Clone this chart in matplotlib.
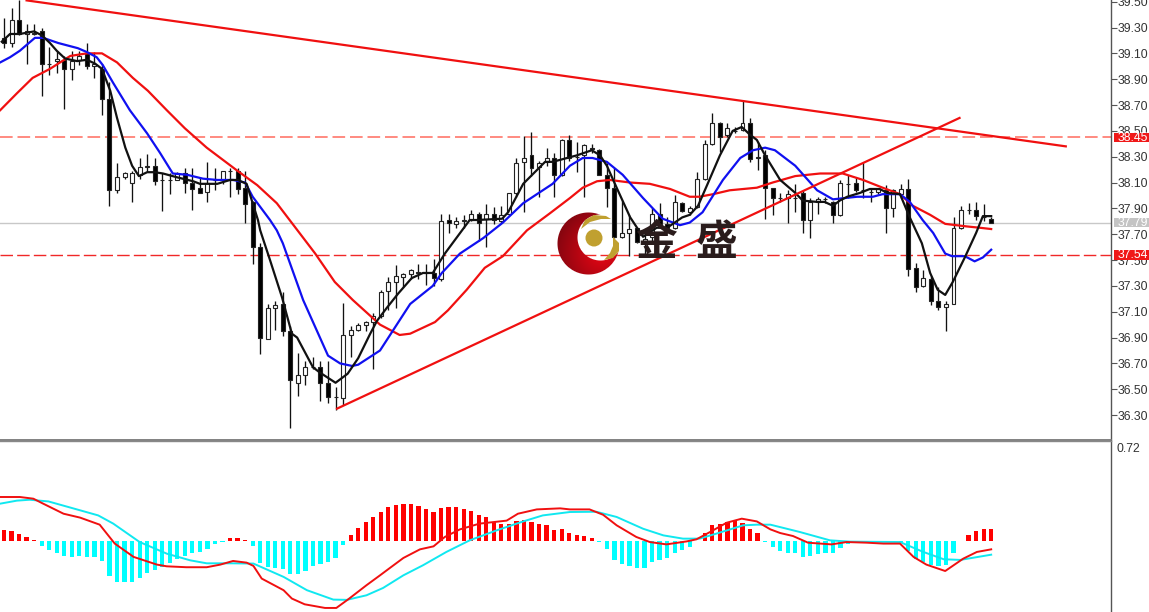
import numpy as np
import matplotlib
matplotlib.use('Agg')
import matplotlib.pyplot as plt
from matplotlib.patches import Rectangle, Polygon, Circle

plt.rcParams['font.family'] = ['Liberation Sans', 'DejaVu Sans']

# candles
highs = [39.37,39.45,39.51,39.33,39.33,39.30,39.15,39.12,39.08,39.12,39.12,39.18,39.11,39.02,38.88,38.25,38.18,38.19,38.29,38.32,
         38.29,38.17,38.17,38.18,38.21,38.21,38.14,38.26,38.21,38.19,38.21,38.21,38.19,37.96,37.63,37.16,37.18,37.25,36.99,36.78,
         36.72,36.75,36.72,36.72,36.52,37.17,36.99,37.01,37.03,37.09,37.27,37.37,37.46,37.40,37.43,37.47,37.47,37.51,37.86,37.86,
         37.83,37.85,37.89,37.87,37.93,37.91,37.92,38.02,38.29,38.46,38.49,38.27,38.37,38.33,38.44,38.47,38.41,38.40,38.40,38.36,
         38.25,38.21,37.96,37.85,37.75,37.73,37.90,37.94,37.83,38.00,37.95,37.92,38.18,38.43,38.64,38.57,38.56,38.53,38.74,38.60,
         38.41,38.35,38.06,38.02,38.04,38.09,38.04,37.98,37.99,37.99,37.96,38.12,38.16,38.14,38.26,38.05,38.06,38.08,38.05,38.09,
         38.13,37.48,37.42,37.38,37.29,37.18,37.83,37.92,37.94,37.95,37.93,37.83]
lows = [39.14,39.15,39.24,39.02,39.24,38.77,38.93,38.95,38.67,38.89,39.01,38.98,38.91,38.62,37.92,38.02,38.13,37.95,38.13,38.18,
        38.08,37.88,38.01,38.12,38.02,37.89,38.02,37.95,38.04,38.09,37.99,38.01,37.79,37.47,36.77,36.89,36.96,36.91,36.20,36.45,
        36.53,36.66,36.41,36.39,36.34,36.38,36.75,36.95,36.95,36.66,37.05,37.11,37.13,37.29,37.35,37.35,37.31,37.30,37.34,37.71,
        37.75,37.75,37.80,37.65,37.60,37.78,37.79,37.85,37.99,37.87,38.15,37.99,38.23,37.99,38.15,38.27,38.18,37.99,38.33,38.16,
        37.91,37.67,37.67,37.53,37.63,37.55,37.65,37.75,37.73,37.74,37.87,37.85,37.90,38.12,38.39,38.34,38.45,38.48,38.50,38.26,
        38.20,37.82,37.85,37.95,37.79,37.87,37.71,37.67,37.86,37.94,37.79,37.84,37.98,38.03,37.98,37.95,38.01,37.71,37.83,37.98,
        37.38,37.25,37.29,37.15,37.11,36.95,37.16,37.74,37.86,37.81,37.80,37.79]
opens = [39.22,39.18,39.36,39.25,39.25,39.27,39.02,39.04,39.05,38.98,39.05,39.10,39.00,38.98,38.75,38.04,38.14,38.10,38.16,38.22,
         38.23,38.12,38.12,38.12,38.17,38.10,38.06,38.03,38.12,38.12,38.19,38.19,38.06,37.95,37.60,36.89,37.13,37.16,36.95,36.55,
         36.61,36.67,36.67,36.55,36.44,36.43,36.92,36.96,37.00,37.02,37.07,37.26,37.33,37.37,37.39,37.41,37.40,37.40,37.35,37.81,
         37.78,37.80,37.81,37.86,37.82,37.86,37.80,37.86,38.02,38.26,38.31,38.22,38.26,38.29,38.16,38.43,38.30,38.31,38.37,38.35,
         38.16,38.06,37.68,37.71,37.75,37.63,37.68,37.86,37.78,37.75,37.94,37.87,37.91,38.13,38.40,38.56,38.47,38.50,38.51,38.56,
         38.29,38.31,38.06,37.98,37.98,37.98,38.02,37.81,37.95,37.97,37.95,37.85,38.09,38.10,38.04,38.03,38.03,38.04,37.90,38.01,
         38.05,37.44,37.30,37.35,37.18,37.14,37.16,37.75,37.89,37.89,37.83,37.82]
closes = [39.18,39.36,39.25,39.27,39.26,39.02,39.02,39.06,38.98,39.04,39.08,39.00,39.02,38.75,38.04,38.14,38.17,38.17,38.22,38.23,
          38.11,38.12,38.12,38.17,38.10,38.05,38.02,38.10,38.12,38.19,38.19,38.05,37.93,37.60,36.90,37.13,37.15,36.95,36.57,36.61,
          36.67,36.67,36.55,36.44,36.44,36.92,36.96,37.00,37.02,37.07,37.25,37.33,37.38,37.39,37.42,37.40,37.40,37.36,37.80,37.79,
          37.80,37.81,37.86,37.79,37.86,37.81,37.85,38.02,38.25,38.29,38.21,38.25,38.29,38.16,38.43,38.29,38.30,38.39,38.36,38.16,
          38.06,37.68,37.71,37.74,37.64,37.66,37.86,37.78,37.75,37.95,37.88,37.90,38.13,38.40,38.56,38.45,38.52,38.50,38.56,38.28,
          38.30,38.06,37.98,37.98,38.01,37.98,37.81,37.95,37.97,37.97,37.85,38.10,38.09,38.04,38.04,38.03,38.05,37.90,38.04,38.05,
          37.43,37.29,37.36,37.18,37.14,37.16,37.75,37.89,37.89,37.84,37.83,37.79]

# moving averages: bar position, price
black_x = [-0.3,0.8,2.1,4.0,5.0,6.1,7.0,8.1,9.7,11.0,12.1,13.0,14.1,15.0,16.1,17.0,17.9,19.0,20.0,21.1,23.0,25.1,26.0,28.3,30.0,31.0,32.2,33.0,33.7,34.0,35.3,36.9,38.2,38.9,41.0,41.9,44.0,45.6,47.0,48.6,49.5,50.8,52.3,54.1,55.6,56.9,58.5,61.8,62.8,66.1,66.9,68.9,71.8,72.8,76.0,78.0,79.1,80.0,81.3,83.1,84.8,86.6,88.0,90.0,91.0,92.1,93.3,95.0,96.7,97.9,99.0,99.9,101.0,103.0,105.0,106.0,107.9,108.9,110.0,110.9,111.9,113.6,114.9,116.2,117.2,118.9,120.2,121.8,122.9,123.9,124.9,125.9,127.5,129.0,129.9,131.0]
black_y = [39.19,39.25,39.25,39.27,39.24,39.18,39.12,39.06,39.04,39.05,39.02,38.98,38.81,38.60,38.37,38.23,38.15,38.18,38.18,38.17,38.14,38.11,38.09,38.09,38.12,38.12,38.09,37.94,37.81,37.73,37.50,37.21,36.93,36.90,36.67,36.63,36.55,36.62,36.74,36.93,37.03,37.13,37.24,37.36,37.40,37.40,37.55,37.81,37.81,37.82,37.87,38.09,38.26,38.26,38.31,38.35,38.31,38.23,38.06,37.83,37.68,37.75,37.75,37.83,37.85,37.92,38.08,38.31,38.50,38.53,38.47,38.43,38.31,38.12,38.02,37.96,37.95,37.95,37.92,37.96,37.99,38.02,38.05,38.05,38.02,38.01,37.83,37.63,37.40,37.27,37.23,37.33,37.52,37.71,37.84,37.84]
blue_x = [-0.5,0.8,2.1,4.1,5.2,7.2,9.8,11.0,12.3,13.1,14.5,16.7,19.0,20.7,22.4,24.3,26.4,28.3,30.4,32.0,33.0,35.3,36.2,37.0,39.7,43.0,44.6,46.2,47.0,49.9,53.9,56.9,58.1,60.5,63.6,66.2,68.9,72.8,75.1,76.8,78.1,80.0,82.1,84.8,87.4,89.7,91.0,92.7,95.4,97.7,99.4,101.0,102.3,105.0,107.9,110.0,113.2,115.3,116.6,118.9,120.2,121.9,123.3,124.9,125.8,127.5,128.8,129.9,131.0]
blue_y = [39.03,39.07,39.12,39.22,39.22,39.18,39.14,39.11,39.07,39.01,38.87,38.66,38.48,38.33,38.17,38.16,38.13,38.12,38.12,38.10,37.99,37.81,37.73,37.63,37.19,36.76,36.70,36.68,36.69,36.80,37.16,37.30,37.40,37.55,37.67,37.79,37.94,38.09,38.23,38.29,38.29,38.26,38.16,37.98,37.82,37.77,37.79,37.87,38.12,38.29,38.35,38.37,38.35,38.23,38.04,37.97,37.99,37.99,38.01,38.01,37.95,37.81,37.71,37.55,37.53,37.53,37.49,37.52,37.58]
red_x = [-0.5,1.7,3.8,6.1,8.8,11.0,13.0,15.0,17.1,19.1,21.6,24.0,26.9,31.0,33.6,36.2,37.9,41.3,43.9,46.3,49.9,52.5,53.9,57.2,58.9,61.4,63.8,66.2,69.4,72.4,75.1,76.8,78.7,80.4,83.1,85.7,88.4,91.0,92.3,94.1,96.3,99.9,102.0,105.0,108.3,111.3,114.0,116.6,118.9,120.6,122.9,124.9,127.8,129.5,131.0]
red_y = [38.66,38.79,38.91,38.98,39.08,39.10,39.10,39.03,38.91,38.81,38.66,38.52,38.37,38.19,38.08,37.94,37.81,37.55,37.33,37.19,37.00,36.92,36.93,37.02,37.11,37.27,37.44,37.53,37.73,37.86,37.98,38.06,38.11,38.12,38.10,38.09,38.05,37.99,37.99,38.01,38.04,38.06,38.10,38.15,38.17,38.17,38.12,38.06,38.01,37.92,37.85,37.78,37.76,37.75,37.74]

# trend lines: bar position, price
trend_down_x = [3.0, 140.9]
trend_down_y = [39.51, 38.38]
trend_up_x = [44.2, 126.8]
trend_up_y = [36.35, 38.60]

# horizontal levels
level_upper = 38.45
level_lower = 37.54
level_bid = 37.79
price_ticks = [36.30,36.50,36.70,36.90,37.10,37.30,37.50,37.70,37.90,38.10,38.30,38.50,38.70,38.90,39.10,39.30,39.50]

# macd histogram and its two lines
hist = [.087,.079,.056,.033,.010,-.041,-.071,-.092,-.117,-.122,-.117,-.122,-.122,-.156,-.270,-.314,-.316,-.314,-.283,-.245,
        -.224,-.199,-.168,-.135,-.115,-.092,-.084,-.059,-.023,-.005,.020,.020,.008,-.041,-.168,-.201,-.204,-.212,-.255,-.255,
        -.232,-.194,-.173,-.161,-.128,-.033,.043,.102,.148,.181,.224,.258,.278,.281,.281,.265,.247,.219,.255,.263,
        .258,.242,.230,.196,.181,.145,.130,.128,.150,.163,.148,.128,.122,.084,.092,.064,.046,.036,.023,-.008,
        -.059,-.143,-.179,-.194,-.209,-.209,-.163,-.143,-.133,-.089,-.066,-.048,-.003,.064,.120,.133,.148,.153,.140,.089,
        .059,-.005,-.046,-.077,-.092,-.092,-.122,-.115,-.097,-.089,-.092,-.054,-.020,-.008,-.005,-.003,-.003,-.005,-.005,-.005,
        -.077,-.140,-.161,-.186,-.194,-.186,-.092,-.003,.048,.077,.094,.094]
macd_x = [-0.5,2.1,3.9,5.2,7.9,10.1,12.7,14.7,17.2,20.3,21.6,24.2,26.9,28.7,30.4,32.2,33.1,34.2,37.1,38.2,39.9,42.6,44.1,45.7,48.1,49.9,51.2,53.0,55.2,57.0,58.5,60.5,63.1,66.7,68.2,70.7,73.8,75.1,77.7,79.5,81.3,83.9,85.7,87.9,90.6,91.9,93.7,95.9,97.9,99.9,101.7,103.0,104.7,106.7,109.8,111.8,114.5,116.7,118.9,120.7,122.4,124.9,127.3,129.1,131.0]
macd_y = [.337,.337,.324,.286,.209,.179,.125,-.020,-.122,-.181,-.194,-.201,-.201,-.181,-.153,-.166,-.191,-.288,-.377,-.441,-.485,-.513,-.513,-.446,-.339,-.263,-.207,-.130,-.064,-.041,.031,.089,.133,.156,.209,.242,.250,.242,.242,.201,.120,.031,-.008,-.026,-.003,.013,.069,.140,.171,.150,.089,.061,.038,-.013,-.026,-.008,-.013,-.020,-.020,-.122,-.181,-.230,-.135,-.084,-.064]
signal_x = [-0.5,1.7,3.4,5.9,10.1,12.5,14.5,18.0,21.6,24.7,26.9,30.4,33.1,37.1,40.2,43.7,45.5,48.1,50.3,53.0,55.6,58.7,61.8,65.4,68.9,71.5,75.1,78.6,81.3,84.8,87.5,90.1,92.3,94.5,98.1,99.9,101.7,105.6,109.6,112.3,118.9,122.0,124.7,126.9,131.0]
signal_y = [.286,.309,.316,.303,.235,.196,.133,-.008,-.097,-.148,-.171,-.171,-.173,-.275,-.377,-.449,-.451,-.416,-.360,-.263,-.186,-.084,.005,.082,.150,.196,.222,.224,.184,.094,.043,.018,.018,.056,.120,.125,.125,.069,.005,-.005,-.008,-.084,-.140,-.145,-.105]
macd_tick = 0.72

W, H = 1149, 612
AXIS_X = 1111
SPLIT_Y = 440
fig = plt.figure(figsize=(W/100, H/100), dpi=100)
ax = fig.add_axes([0, 1-SPLIT_Y/H, AXIS_X/W, SPLIT_Y/H])
ax2 = fig.add_axes([0, 0, AXIS_X/W, 1-SPLIT_Y/H-1/H])

# main panel
ax.axhline(level_bid, color='#c8c8c8', lw=1, zorder=1)
ax.axhline(level_upper, color='#ff8a80', lw=1.4, ls=(0, (6.5, 2.5)), zorder=1)
ax.axhline(level_lower, color='#f02828', lw=1.0, ls=(0, (9, 3)), zorder=1)

x = np.arange(len(closes))
ax.vlines(x, lows, highs, color='#111111', lw=0.95, zorder=2)
for i in x:
    up = closes[i] >= opens[i]
    ax.bar(i, closes[i]-opens[i], bottom=opens[i], width=0.53,
           facecolor='white' if up else 'black', edgecolor='#222222', lw=0.8, zorder=3)

ax.plot(red_x, red_y, color='#f01010', lw=1.6, zorder=4)
ax.plot(blue_x, blue_y, color='#1010f0', lw=1.6, zorder=4)
ax.plot(black_x, black_y, color='#111111', lw=1.6, zorder=4)
ax.plot(trend_down_x, trend_down_y, color='#f01010', lw=1.6, zorder=4)
ax.plot(trend_up_x, trend_up_y, color='#f01010', lw=1.6, zorder=4)

ax.set_xlim(-0.53, 146.9)
ax.set_ylim(36.107, 39.513)
ax.set_xticks([])
ax.yaxis.tick_right()
ax.set_yticks(price_ticks)
ax.set_yticklabels(['%.2f' % t for t in price_ticks])
ax.tick_params(axis='y', length=4, width=0.8, color='#555555', labelcolor='#333333', labelsize=8.8, pad=0.5)

# price tags on the axis
tags = [(level_upper, '#f01818'), (level_lower, '#f01818'), (level_bid, '#c4c4c4')]
trans = ax.get_yaxis_transform()
for price, col in tags:
    ax.add_patch(Rectangle((1.0025, price-0.037), 0.033, 0.074, transform=trans, clip_on=False,
                           facecolor=col, edgecolor='none', zorder=6))
    ax.text(1.0195, price-0.002, '%.2f' % price, transform=trans, color='white', fontsize=8.8,
            ha='center', va='center', clip_on=False, zorder=7)

# macd panel
cols = ['#ff0000' if v > 0 else '#00ffff' for v in hist]
ax2.bar(np.arange(len(hist)), hist, width=0.56, color=cols, lw=0, zorder=2)
ax2.plot(signal_x, signal_y, color='#10e8f0', lw=1.4, zorder=3)
ax2.plot(macd_x, macd_y, color='#f01010', lw=1.4, zorder=4)
ax2.set_xlim(-0.53, 146.9)
ax2.set_ylim(-0.544, 0.766)
ax2.set_xticks([])
ax2.yaxis.tick_right()
ax2.set_yticks([macd_tick])
ax2.set_yticklabels(['%.2f' % macd_tick])
ax2.tick_params(axis='y', length=0, labelcolor='#333333', labelsize=8.8, pad=4)

for a in (ax, ax2):
    a.spines['left'].set_visible(False)
    a.spines['right'].set_color('#555555')
    a.spines['right'].set_linewidth(1.0)
ax.spines['top'].set_visible(False)
ax.spines['bottom'].set_color('#777777')
ax.spines['bottom'].set_linewidth(1.3)
ax2.spines['bottom'].set_visible(False)
ax2.spines['top'].set_color('#888888')
ax2.spines['top'].set_linewidth(1.0)

# watermark logo, drawn in pixel coordinates on top of the chart
logo = fig.add_axes([0, 0, 1, 1], facecolor='none')
logo.set_xlim(0, W)
logo.set_ylim(H, 0)
logo.axis('off')

yy, xx = np.mgrid[205:282, 550:628]
outer = np.hypot(xx-588, yy-243)
inner = np.hypot(xx-600, yy-237)
shade = np.clip(np.hypot(xx-602, yy-252)/50, 0, 1)
rgba = np.zeros(xx.shape+(4,))
rgba[..., 0] = 0.92-0.42*shade
rgba[..., 1] = 0.02
rgba[..., 2] = 0.08-0.02*shade
rgba[..., 3] = np.clip(31.5-outer, 0, 1)*np.clip(inner-22.5, 0, 1)
logo.imshow(rgba, extent=(550, 628, 282, 205), aspect='auto', interpolation='bilinear', zorder=1)
logo.set_xlim(0, W)
logo.set_ylim(H, 0)

gold = '#c0a030'
logo.add_patch(Circle((594, 238), 8.5, facecolor=gold, edgecolor='none', zorder=2))
logo.add_patch(Polygon([(581, 229), (585, 220), (594, 215), (606, 216), (611, 219), (601, 219), (590, 222)],
                       facecolor=gold, edgecolor='none', zorder=2))
logo.add_patch(Polygon([(604, 260), (610, 253), (613, 246), (613, 237), (619, 243), (619, 251), (613, 258)],
                       facecolor=gold, edgecolor='none', zorder=2))
logo.text(656, 243, '金', family=['Noto Sans CJK SC', 'DejaVu Sans'], fontsize=30, fontweight='bold',
          color='#2a1c1c', ha='center', va='center', zorder=3)
logo.text(717, 243, '盛', family=['Noto Sans CJK SC', 'DejaVu Sans'], fontsize=30, fontweight='bold',
          color='#2a1c1c', ha='center', va='center', zorder=3)

fig.savefig('out.png', dpi=100, facecolor='white')
